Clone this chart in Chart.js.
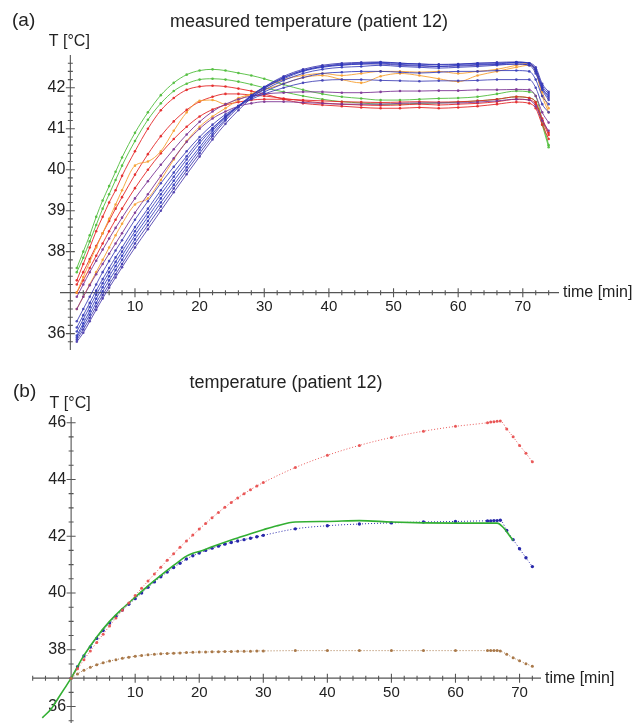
<!DOCTYPE html>
<html>
<head>
<meta charset="utf-8">
<script src="https://cdn.jsdelivr.net/npm/chart.js@4"></script>
<style>
  body { margin: 0; background: #fff; width: 643px; height: 727px; overflow: hidden; position: relative; }
  .box { position: absolute; left: 0; width: 643px; }
  #boxA { top: 0; height: 360px; }
  #boxB { top: 360px; height: 367px; }
</style>
</head>
<body>
<div class="box" id="boxA"><canvas id="chartA"></canvas></div>
<div class="box" id="boxB"><canvas id="chartB"></canvas></div>
<script>
// ---- panel (a): measured temperature, one curve per probe ----
const timeA = [1, 2, 3, 4, 5, 6, 7, 8, 10, 12, 14, 16, 18, 20, 22, 24, 26, 28, 30,
  33, 36, 39, 42, 45, 48, 51, 54, 57, 60, 63, 66, 69, 71, 72, 73, 74];

const green1 = [37.6, 38.0, 38.4, 38.85, 39.25, 39.6, 39.95, 40.3, 40.9, 41.4, 41.82, 42.12, 42.32, 42.42, 42.45, 42.42, 42.36, 42.3, 42.22,
  42.08, 41.95, 41.85, 41.78, 41.74, 41.7, 41.7, 41.72, 41.74, 41.75, 41.78, 41.85, 41.92, 41.9, 41.8, 41.2, 40.6];
const green2 = [37.5, 37.85, 38.25, 38.65, 39.05, 39.4, 39.75, 40.1, 40.7, 41.22, 41.62, 41.92, 42.1, 42.2, 42.22, 42.2, 42.15, 42.08, 42.0,
  41.9, 41.8, 41.72, 41.66, 41.63, 41.6, 41.6, 41.62, 41.63, 41.65, 41.68, 41.72, 41.78, 41.75, 41.65, 41.1, 40.55];
const red1 = [37.3, 37.7, 38.1, 38.5, 38.85, 39.2, 39.5, 39.85, 40.45, 41.0, 41.45, 41.75, 41.95, 42.03, 42.05, 42.03, 41.98, 41.92, 41.85,
  41.72, 41.62, 41.58, 41.55, 41.52, 41.5, 41.5, 41.52, 41.5, 41.52, 41.55, 41.6, 41.65, 41.62, 41.5, 41.1, 40.75];
const red2 = [37.2, 37.5, 37.82, 38.14, 38.45, 38.75, 39.05, 39.33, 39.88, 40.38, 40.82, 41.18, 41.46, 41.66, 41.78, 41.85, 41.85, 41.82, 41.8,
  41.74, 41.68, 41.63, 41.6, 41.58, 41.57, 41.58, 41.6, 41.58, 41.6, 41.62, 41.66, 41.72, 41.7, 41.6, 41.2, 40.85];
const red3 = [37.0, 37.3, 37.6, 37.9, 38.2, 38.5, 38.78, 39.05, 39.55, 40.0, 40.4, 40.75, 41.05, 41.3, 41.47, 41.58, 41.65, 41.7, 41.72,
  41.72, 41.7, 41.68, 41.66, 41.65, 41.64, 41.65, 41.66, 41.65, 41.66, 41.68, 41.72, 41.78, 41.75, 41.65, 41.25, 40.9];
const orange1 = [37.0, 37.38, 37.75, 38.1, 38.45, 38.8, 39.15, 39.5, 40.1, 40.2, 40.45, 40.95, 41.4, 41.68, 41.7, 41.6, 41.75, 41.85, 41.95,
  42.1, 42.25, 42.3, 42.2, 42.12, 42.28, 42.35, 42.3, 42.22, 42.15, 42.3, 42.4, 42.5, 42.55, 42.4, 41.8, 41.4];
const orange2 = [36.6, 36.9, 37.2, 37.5, 37.8, 38.1, 38.4, 38.68, 39.15, 39.3, 39.75, 40.25, 40.7, 41.05, 41.3, 41.5, 41.7, 41.85, 42.0,
  42.2, 42.3, 42.35, 42.3, 42.35, 42.4, 42.4, 42.38, 42.4, 42.35, 42.4, 42.45, 42.55, 42.6, 42.4, 41.9, 41.5];
const purple1 = [36.9, 37.2, 37.5, 37.78, 38.05, 38.32, 38.58, 38.83, 39.3, 39.72, 40.12, 40.5, 40.86, 41.17, 41.42, 41.6, 41.72, 41.8, 41.85,
  41.88, 41.9, 41.9, 41.88, 41.88, 41.9, 41.92, 41.92, 41.93, 41.93, 41.95, 41.95, 41.96, 41.95, 41.8, 41.4, 41.15];
const purple2 = [36.6, 36.9, 37.18, 37.45, 37.7, 37.95, 38.2, 38.45, 38.95, 39.4, 39.85, 40.28, 40.68, 41.0, 41.25, 41.42, 41.55, 41.62, 41.66,
  41.66, 41.64, 41.62, 41.6, 41.6, 41.6, 41.62, 41.63, 41.63, 41.63, 41.65, 41.68, 41.72, 41.7, 41.55, 41.2, 40.95];
const blue1 = [36.3, 36.6, 36.9, 37.2, 37.5, 37.77, 38.03, 38.28, 38.78, 39.23, 39.67, 40.07, 40.45, 40.8, 41.1, 41.35, 41.55, 41.72, 41.85,
  42.0, 42.12, 42.18, 42.2, 42.2, 42.18, 42.17, 42.16, 42.17, 42.17, 42.18, 42.2, 42.2, 42.2, 42.0, 41.6, 41.4];
const blue2 = [36.15, 36.45, 36.75, 37.05, 37.33, 37.6, 37.86, 38.1, 38.6, 39.05, 39.5, 39.93, 40.33, 40.72, 41.02, 41.3, 41.55, 41.75, 41.9,
  42.1, 42.25, 42.35, 42.38, 42.4, 42.4, 42.38, 42.36, 42.38, 42.4, 42.4, 42.42, 42.42, 42.4, 42.2, 41.8, 41.6];
const blue3 = [36.05, 36.35, 36.65, 36.95, 37.23, 37.5, 37.75, 38.0, 38.5, 38.95, 39.4, 39.83, 40.25, 40.65, 41.0, 41.3, 41.56, 41.78, 41.95,
  42.18, 42.35, 42.45, 42.5, 42.52, 42.55, 42.52, 42.5, 42.48, 42.5, 42.52, 42.55, 42.58, 42.55, 42.35, 41.95, 41.7];
const blue4 = [35.95, 36.25, 36.55, 36.85, 37.13, 37.4, 37.65, 37.9, 38.4, 38.85, 39.3, 39.73, 40.15, 40.55, 40.95, 41.28, 41.55, 41.8, 42.0,
  42.22, 42.4, 42.5, 42.55, 42.58, 42.6, 42.57, 42.55, 42.52, 42.55, 42.57, 42.58, 42.62, 42.6, 42.4, 42.0, 41.8];
const blue5 = [35.9, 36.18, 36.46, 36.75, 37.03, 37.3, 37.55, 37.8, 38.3, 38.75, 39.2, 39.63, 40.06, 40.48, 40.88, 41.24, 41.55, 41.82, 42.02,
  42.25, 42.42, 42.52, 42.58, 42.6, 42.62, 42.6, 42.58, 42.56, 42.57, 42.6, 42.6, 42.62, 42.6, 42.45, 42.05, 41.85];
const blue6 = [35.85, 36.1, 36.38, 36.66, 36.94, 37.2, 37.45, 37.7, 38.2, 38.65, 39.1, 39.54, 39.98, 40.4, 40.82, 41.2, 41.52, 41.8, 42.02,
  42.28, 42.45, 42.55, 42.6, 42.62, 42.63, 42.6, 42.58, 42.57, 42.58, 42.6, 42.62, 42.63, 42.6, 42.5, 42.1, 41.9];
const blue7 = [35.8, 36.02, 36.3, 36.58, 36.86, 37.12, 37.37, 37.62, 38.1, 38.55, 39.0, 39.45, 39.89, 40.32, 40.74, 41.12, 41.45, 41.75, 41.98,
  42.25, 42.42, 42.52, 42.56, 42.58, 42.58, 42.55, 42.53, 42.52, 42.53, 42.55, 42.57, 42.58, 42.55, 42.45, 42.0, 41.75];

// ---- panel (b): model temperatures ----
const timeB = [0, 1, 2, 3, 4, 5, 6, 7, 8, 9, 10, 11, 12, 13, 14, 15, 16, 17, 18, 19, 20,
  21, 22, 23, 24, 25, 26, 27, 28, 29, 30, 35, 40, 45, 50, 55, 60, 65, 65.5, 66, 66.5, 67, 68, 69, 70, 71, 72];
const redB = [37.0, 37.33, 37.65, 37.96, 38.26, 38.55, 38.84, 39.12, 39.39, 39.65, 39.91, 40.17, 40.42, 40.67, 40.91, 41.15, 41.38, 41.61, 41.83, 42.04, 42.25,
  42.45, 42.65, 42.84, 43.02, 43.19, 43.35, 43.5, 43.64, 43.77, 43.89, 44.42, 44.85, 45.2, 45.48, 45.7, 45.87, 46.0, 46.02, 46.03, 46.05, 46.06, 45.78, 45.5, 45.2, 44.92, 44.62];
const blueB = [37.0, 37.4, 37.78, 38.1, 38.4, 38.68, 38.94, 39.18, 39.4, 39.6, 39.8, 40.0, 40.2, 40.39, 40.57, 40.74, 40.9, 41.05, 41.2, 41.31, 41.41,
  41.5, 41.58, 41.65, 41.72, 41.78, 41.83, 41.88, 41.93, 41.98, 42.03, 42.26, 42.37, 42.43, 42.47, 42.5, 42.52, 42.54, 42.54, 42.55, 42.55, 42.56, 42.2, 41.88, 41.56, 41.24, 40.93];
const brownB = [37.0, 37.15, 37.28, 37.38, 37.47, 37.54, 37.6, 37.65, 37.7, 37.74, 37.77, 37.8, 37.82, 37.84, 37.86, 37.87, 37.88, 37.89, 37.9, 37.91, 37.92,
  37.92, 37.93, 37.93, 37.94, 37.94, 37.95, 37.95, 37.95, 37.96, 37.96, 37.97, 37.97, 37.97, 37.97, 37.97, 37.97, 37.97, 37.97, 37.97, 37.97, 37.96, 37.84, 37.72, 37.61, 37.51, 37.42];
const timeGreenB = [-4.5, -3, -2, -1, 0, 2, 4, 6, 8, 10, 12, 14, 16, 18, 19, 20, 22, 24, 26, 28, 30, 32, 35, 40, 45, 50, 55, 60, 65, 66.5, 67.5, 68.5, 69];
const greenB = [35.6, 35.95, 36.3, 36.65, 37.0, 37.8, 38.45, 39.0, 39.45, 39.85, 40.25, 40.62, 40.97, 41.3, 41.4, 41.46, 41.63, 41.79, 41.94, 42.09, 42.23, 42.36,
  42.5, 42.52, 42.55, 42.5, 42.47, 42.46, 42.46, 42.46, 42.3, 42.0, 41.85];

// tick labels
const xMajor = [10, 20, 30, 40, 50, 60, 70];
const yMajorA = [36, 38, 39, 40, 41, 42];
const yMajorB = [36, 38, 40, 42, 44, 46];

const FONT = '"Liberation Sans", Arial, sans-serif';

function pts(xs, ys) {
  return xs.map((t, i) => ({ x: t, y: ys[i] }));
}

// minor tick positions (every step, skipping the majors)
function minors(from, to, step, skip) {
  const out = [];
  for (let v = from; v <= to + 1e-9; v += step) {
    const r = Math.round(v * 100) / 100;
    if (!skip(r)) out.push(r);
  }
  return out;
}

// axes crossing at (crossX, crossY) with ticks on both sides of the line
const crossAxes = {
  id: 'crossAxes',
  beforeDatasetsDraw(chart, args, o) {
    const { ctx, chartArea: a, scales: { x, y } } = chart;
    const x0 = x.getPixelForValue(o.crossX);
    const y0 = y.getPixelForValue(o.crossY);
    ctx.save();
    ctx.strokeStyle = '#555';
    ctx.lineWidth = 1.1;
    ctx.beginPath();
    ctx.moveTo(a.left, y0);
    ctx.lineTo(a.right, y0);
    ctx.moveTo(x0, a.top);
    ctx.lineTo(x0, a.bottom);
    for (const v of o.xMinor) {
      const p = x.getPixelForValue(v);
      ctx.moveTo(p, y0 - 2.5); ctx.lineTo(p, y0 + 2.5);
    }
    for (const v of o.xMajor) {
      const p = x.getPixelForValue(v);
      ctx.moveTo(p, y0 - 4.5); ctx.lineTo(p, y0 + 4.5);
    }
    for (const v of o.yMinor) {
      const p = y.getPixelForValue(v);
      ctx.moveTo(x0 - 2.5, p); ctx.lineTo(x0 + 2.5, p);
    }
    for (const v of o.yMajor) {
      const p = y.getPixelForValue(v);
      ctx.moveTo(x0 - 4.5, p); ctx.lineTo(x0 + 4.5, p);
    }
    ctx.stroke();

    ctx.fillStyle = '#222';
    ctx.font = '15px ' + FONT;
    ctx.textAlign = 'center';
    ctx.textBaseline = 'middle';
    for (const v of o.xMajor) ctx.fillText(String(v), x.getPixelForValue(v), y0 + 14.5);
    ctx.font = '16px ' + FONT;
    ctx.textAlign = 'right';
    for (const v of o.yMajor) ctx.fillText(String(v), x0 - 5, y.getPixelForValue(v));

    ctx.font = '16px ' + FONT;
    ctx.textAlign = 'left';
    ctx.fillText('time [min]', a.right + 4, y0);
    ctx.textAlign = 'center';
    ctx.fillText('T [°C]', x0 - 1, a.top - 13);

    ctx.font = '18px ' + FONT;
    ctx.fillText(o.title, o.titleX, o.titleY);
    ctx.font = '19px ' + FONT;
    ctx.textAlign = 'left';
    ctx.fillText(o.panel, o.panelX, o.panelY);
    ctx.restore();
  }
};

function lineSet(data, color, extra) {
  return Object.assign({
    data: data,
    borderColor: color,
    backgroundColor: color,
    pointBackgroundColor: color,
    borderWidth: 1,
    pointRadius: 1.3,
    pointBorderWidth: 0,
    cubicInterpolationMode: 'monotone',
    fill: false
  }, extra || {});
}

const GREEN = 'rgba(80,190,60,0.9)';
const RED = 'rgba(228,40,40,0.9)';
const ORANGE = 'rgba(246,160,50,0.9)';
const PURPLE = 'rgba(125,55,150,0.9)';
const BLUE = 'rgba(50,58,185,0.85)';

const seriesA = [
  [blue1, 'rgba(60,60,180,0.85)'], [blue2, BLUE], [blue3, BLUE], [blue4, 'rgba(45,55,190,0.85)'],
  [blue5, BLUE], [blue6, 'rgba(55,50,175,0.85)'], [blue7, 'rgba(70,55,170,0.85)'],
  [purple2, PURPLE], [purple1, PURPLE],
  [orange2, ORANGE], [orange1, ORANGE],
  [red3, RED], [red2, RED], [red1, RED],
  [green2, GREEN], [green1, GREEN]
];

new Chart(document.getElementById('chartA'), {
  type: 'line',
  data: { datasets: seriesA.map(s => lineSet(pts(timeA, s[0]), s[1])) },
  options: {
    responsive: true,
    maintainAspectRatio: false,
    animation: false,
    layout: { padding: { left: 60, right: 84, top: 55, bottom: 10 } },
    scales: {
      x: { type: 'linear', min: -1.6, max: 75.6, display: false },
      y: { type: 'linear', min: 35.6, max: 42.8, display: false }
    },
    plugins: {
      legend: { display: false },
      tooltip: { enabled: false },
      crossAxes: {
        crossX: 0, crossY: 37,
        xMajor: xMajor,
        xMinor: minors(2, 74, 2, v => v % 10 === 0),
        yMajor: yMajorA,
        yMinor: minors(35.8, 42.6, 0.2, v => Math.abs(v - Math.round(v)) < 1e-6 && v !== 37),
        title: 'measured temperature (patient 12)', titleX: 309, titleY: 22,
        panel: '(a)', panelX: 12, panelY: 21
      }
    }
  },
  plugins: [crossAxes]
});

new Chart(document.getElementById('chartB'), {
  type: 'line',
  data: {
    datasets: [
      lineSet(pts(timeB, brownB), 'rgba(165,115,65,0.95)', { borderDash: [1, 2], pointRadius: 1.5 }),
      lineSet(pts(timeB, redB), 'rgba(232,80,80,0.95)', { borderDash: [1, 2], pointRadius: 1.5 }),
      lineSet(pts(timeGreenB, greenB), 'rgb(50,175,50)', { borderWidth: 1.6, pointRadius: 0 }),
      lineSet(pts(timeB, blueB), 'rgb(40,40,170)', { borderDash: [1, 2], pointRadius: 1.7 })
    ]
  },
  options: {
    responsive: true,
    maintainAspectRatio: false,
    animation: false,
    layout: { padding: { left: 33, right: 102, top: 57, bottom: 0 } },
    scales: {
      x: { type: 'linear', min: -5.95, max: 73.35, display: false },
      y: { type: 'linear', min: 35.42, max: 46.2, display: false }
    },
    plugins: {
      legend: { display: false },
      tooltip: { enabled: false },
      crossAxes: {
        crossX: 0, crossY: 37,
        xMajor: xMajor,
        xMinor: minors(-6, 72, 2, v => v % 10 === 0),
        yMajor: yMajorB,
        yMinor: minors(35.5, 45.5, 0.5, v => (v % 2 === 0) || v === 37),
        title: 'temperature (patient 12)', titleX: 286, titleY: 23,
        panel: '(b)', panelX: 13, panelY: 32
      }
    }
  },
  plugins: [crossAxes]
});
</script>
</body>
</html>
